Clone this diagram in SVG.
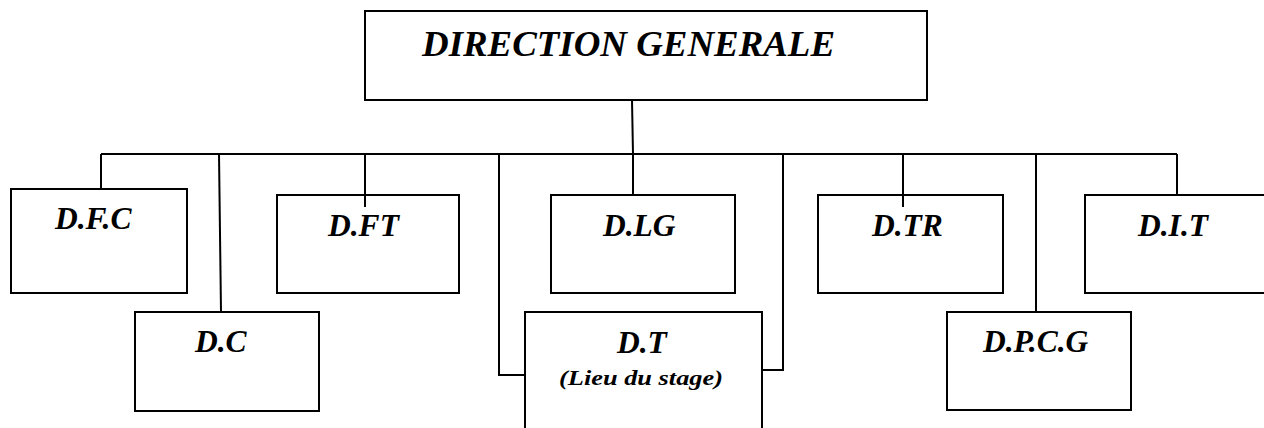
<svg xmlns="http://www.w3.org/2000/svg" width="1264" height="428" viewBox="0 0 1264 428">
<style>
.box{fill:#fff;stroke:#000;stroke-width:2}
.ln{fill:none;stroke:#000;stroke-width:2}
.t{font-family:"Liberation Serif","Times New Roman",serif;font-weight:bold;font-style:italic;fill:#000}
.lbl{font-size:31.5px}
</style>
<rect width="1264" height="428" fill="#fff"/>
<g id="connectors">
<path class="ln" d="M632,100 L633,154"/>
<path class="ln" d="M101,154 L1177,154"/>
<path class="ln" d="M101,154 L101,189"/>
<path class="ln" d="M219,154 L221,312"/>
<path class="ln" d="M365,154 L365,207"/>
<path class="ln" d="M499,154 L499,375 L525,375"/>
<path class="ln" d="M633,154 L633,195"/>
<path class="ln" d="M783,154 L783,370 L762,370"/>
<path class="ln" d="M903,154 L903,207"/>
<path class="ln" d="M1036,154 L1036,312"/>
<path class="ln" d="M1177,154 L1177,195"/>
</g>
<g id="dg">
<rect class="box" x="365" y="11" width="562" height="89"/>
<text class="t" x="422" y="56" font-size="36.5" textLength="413" lengthAdjust="spacingAndGlyphs">DIRECTION GENERALE</text>
</g>
<g id="dfc">
<rect class="box" x="11" y="189" width="176" height="104"/>
<text class="t lbl" x="55" y="229">D.F.C</text>
</g>
<g id="dc">
<rect class="box" x="135" y="312" width="184" height="99"/>
<text class="t lbl" x="195" y="352">D.C</text>
</g>
<g id="dft">
<rect class="box" x="277" y="195" width="182" height="98"/>
<text class="t lbl" x="328" y="236">D.FT</text>
</g>
<path class="ln" d="M365,195 L365,207"/>
<g id="dlg">
<rect class="box" x="551" y="195" width="184" height="98"/>
<text class="t lbl" x="603" y="236">D.LG</text>
</g>
<g id="dt">
<rect class="box" x="525" y="312" width="237" height="130"/>
<text class="t lbl" x="617" y="353">D.T</text>
<text class="t" x="559" y="385" font-size="22" textLength="164" lengthAdjust="spacingAndGlyphs">(Lieu du stage)</text>
</g>
<g id="dtr">
<rect class="box" x="818" y="195" width="185" height="98"/>
<text class="t lbl" x="872" y="236">D.TR</text>
</g>
<path class="ln" d="M903,195 L903,207"/>
<g id="dpcg">
<rect class="box" x="947" y="312" width="184" height="98"/>
<text class="t lbl" x="983" y="352">D.P.C.G</text>
</g>
<g id="dit">
<rect class="box" x="1085" y="195" width="190" height="98"/>
<text class="t lbl" x="1138" y="236">D.I.T</text>
</g>
</svg>
